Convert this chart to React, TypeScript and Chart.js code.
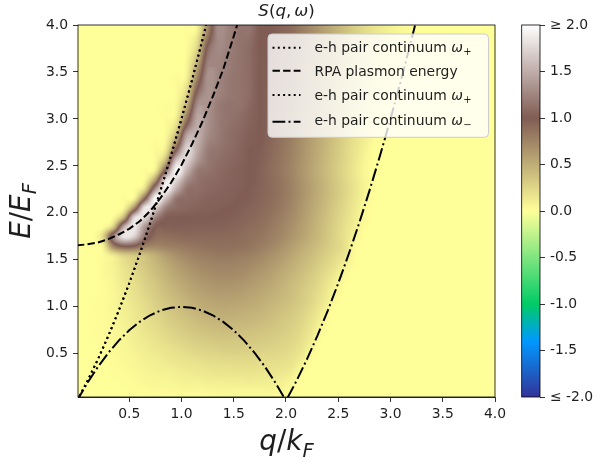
import React, { useEffect, useRef } from "react";
import { Chart, registerables } from "chart.js";

Chart.register(...registerables);

// ---------------- DATA ----------------
// heat-map cell centres (q/kF horizontally, E/EF vertically, top row first)
const qCenters = [
  0.05, 0.15, 0.25, 0.35, 0.45, 0.55, 0.65, 0.75, 0.85, 0.95,
  1.05, 1.15, 1.25, 1.35, 1.45, 1.55, 1.65, 1.75, 1.85, 1.95,
  2.05, 2.15, 2.25, 2.35, 2.45, 2.55, 2.65, 2.75, 2.85, 2.95,
  3.05, 3.15, 3.25, 3.35, 3.45, 3.55, 3.65, 3.75, 3.85, 3.95,
];
const eCenters = [
  3.95, 3.85, 3.75, 3.65, 3.55, 3.45, 3.35, 3.25, 3.15, 3.05,
  2.95, 2.85, 2.75, 2.65, 2.55, 2.45, 2.35, 2.25, 2.15, 2.05,
  1.95, 1.85, 1.75, 1.65, 1.55, 1.45, 1.35, 1.25, 1.15, 1.05,
  0.95, 0.85, 0.75, 0.65, 0.55, 0.45, 0.35, 0.25, 0.15, 0.05,
];
// S(q, w) values, one row per eCenters entry
const sGrid = [
  [0,0,0,0,0,0,0,0,0,0, 0.01,0.08,0.72,1.3,1.24,1.15,1.15,1.0,1.0,0.95, 0.9,0.8,0.7,0.6,0.5,0.4,0.3,0.22,0.15,0.1, 0.06,0.03,0,0,0,0,0,0,0,0],
  [0,0,0,0,0,0,0,0,0,0, 0.02,0.18,0.88,1.29,1.23,1.15,1.12,1.0,1.0,0.95, 0.9,0.8,0.7,0.6,0.5,0.4,0.3,0.22,0.15,0.1, 0.05,0.02,0,0,0,0,0,0,0,0],
  [0,0,0,0,0,0,0,0,0,0, 0.03,0.27,1.06,1.28,1.22,1.15,1.1,1.0,1.0,0.95, 0.88,0.78,0.68,0.58,0.48,0.38,0.28,0.2,0.13,0.08, 0.04,0.01,0,0,0,0,0,0,0,0],
  [0,0,0,0,0,0,0,0,0,0, 0.04,0.4,1.17,1.26,1.2,1.15,1.1,1.0,1.0,0.93, 0.86,0.76,0.66,0.56,0.46,0.36,0.27,0.19,0.12,0.07, 0.03,0,0,0,0,0,0,0,0,0],
  [0,0,0,0,0,0,0,0,0,0, 0.06,0.57,1.26,1.26,1.2,1.15,1.1,1.0,0.98,0.92, 0.85,0.75,0.65,0.55,0.45,0.35,0.26,0.18,0.11,0.06, 0.02,0,0,0,0,0,0,0,0,0],
  [0,0,0,0,0,0,0,0,0,0.02, 0.08,0.73,1.33,1.26,1.18,1.15,1.1,1.0,0.98,0.92, 0.84,0.74,0.64,0.54,0.44,0.34,0.25,0.17,0.1,0.05, 0.01,0,0,0,0,0,0,0,0,0],
  [0,0,0,0,0,0,0,0,0,0.03, 0.18,0.92,1.33,1.25,1.18,1.15,1.1,1.0,0.97,0.91, 0.83,0.73,0.63,0.53,0.43,0.33,0.24,0.16,0.09,0.04, 0,0,0,0,0,0,0,0,0,0],
  [0,0,0,0,0,0,0,0,0,0.03, 0.29,1.12,1.34,1.24,1.18,1.15,1.1,1.0,0.97,0.9, 0.82,0.72,0.62,0.52,0.42,0.32,0.23,0.15,0.08,0.03, 0,0,0,0,0,0,0,0,0,0],
  [0,0,0,0,0,0,0,0,0.02,0.05, 0.48,1.3,1.34,1.2,1.15,1.15,1.08,1.0,0.96,0.9, 0.82,0.72,0.62,0.52,0.42,0.31,0.22,0.14,0.07,0.02, 0,0,0,0,0,0,0,0,0,0],
  [0,0,0,0,0,0,0,0,0.02,0.07, 0.71,1.42,1.33,1.2,1.15,1.12,1.06,1.0,0.95,0.88, 0.8,0.7,0.6,0.5,0.4,0.3,0.21,0.13,0.06,0.01, 0,0,0,0,0,0,0,0,0,0],
  [0,0,0,0,0,0,0,0,0.03,0.18, 0.97,1.48,1.33,1.2,1.14,1.1,1.05,1.0,0.95,0.88, 0.8,0.7,0.6,0.5,0.4,0.3,0.2,0.12,0.05,0, 0,0,0,0,0,0,0,0,0,0],
  [0,0,0,0,0,0,0,0,0.03,0.37, 1.36,1.51,1.31,1.2,1.12,1.08,1.03,1.0,0.94,0.87, 0.79,0.69,0.59,0.49,0.39,0.29,0.19,0.11,0.04,0, 0,0,0,0,0,0,0,0,0,0],
  [0,0,0,0,0,0,0,0.02,0.07,0.68, 1.6,1.51,1.26,1.18,1.12,1.07,1.02,1.0,0.93,0.86, 0.78,0.68,0.58,0.48,0.38,0.28,0.18,0.1,0.02,0, 0,0,0,0,0,0,0,0,0,0],
  [0,0,0,0,0,0,0,0.03,0.18,1.11, 1.77,1.47,1.2,1.15,1.1,1.06,1.0,0.98,0.92,0.85, 0.77,0.67,0.57,0.47,0.37,0.27,0.17,0.08,0,0, 0,0,0,0,0,0,0,0,0,0],
  [0,0,0,0,0,0,0,0.04,0.48,1.67, 1.72,1.37,1.18,1.12,1.08,1.05,1.0,0.97,0.91,0.84, 0.76,0.66,0.56,0.46,0.36,0.26,0.16,0.06,0,0, 0,0,0,0,0,0,0,0,0,0],
  [0,0,0,0,0,0,0.02,0.12,1.07,1.95, 1.55,1.2,1.15,1.1,1.06,1.03,1.0,0.96,0.9,0.83, 0.75,0.65,0.55,0.45,0.35,0.25,0.15,0.05,0,0, 0,0,0,0,0,0,0,0,0,0],
  [0,0,0,0,0,0,0.04,0.62,1.8,1.75, 1.32,1.15,1.1,1.08,1.05,1.03,1.0,0.96,0.91,0.84, 0.76,0.66,0.56,0.46,0.36,0.26,0.16,0.06,0,0, 0,0,0,0,0,0,0,0,0,0],
  [0,0,0,0,0,0.02,0.27,1.36,1.92,1.49, 1.15,1.12,1.08,1.06,1.04,1.02,0.99,0.95,0.91,0.85, 0.77,0.67,0.57,0.47,0.37,0.27,0.17,0.07,0,0, 0,0,0,0,0,0,0,0,0,0],
  [0,0,0,0,0.02,0.1,0.98,1.96,1.6,1.16, 1.1,1.08,1.05,1.04,1.03,1.0,0.98,0.94,0.9,0.84, 0.76,0.66,0.56,0.46,0.36,0.26,0.16,0.06,0,0, 0,0,0,0,0,0,0,0,0,0],
  [0,0,0,0,0.07,0.74,1.86,1.68,1.22,1.1, 1.07,1.05,1.03,1.02,1.0,0.98,0.95,0.92,0.88,0.82, 0.74,0.64,0.54,0.44,0.34,0.24,0.14,0.04,0,0, 0,0,0,0,0,0,0,0,0,0],
  [0,0,0,0.04,0.5,1.76,1.75,1.25,1.02,1.0, 1.0,1.0,1.0,0.99,0.98,0.96,0.93,0.9,0.85,0.79, 0.71,0.62,0.52,0.42,0.32,0.22,0.12,0.03,0,0, 0,0,0,0,0,0,0,0,0,0],
  [0,0,0.02,0.34,1.5,1.85,1.35,1.0,0.97,0.97, 0.97,0.96,0.96,0.96,0.95,0.93,0.9,0.87,0.82,0.76, 0.68,0.59,0.5,0.4,0.3,0.2,0.1,0.02,0,0, 0,0,0,0,0,0,0,0,0,0],
  [0,0,0.25,1.25,1.85,1.7,1.15,0.9,0.88,0.9, 0.92,0.92,0.92,0.92,0.91,0.9,0.87,0.84,0.79,0.73, 0.65,0.57,0.48,0.39,0.29,0.19,0.08,0,0,0, 0,0,0,0,0,0,0,0,0,0],
  [0,0,0.1,0.8,1.05,1.0,0.8,0.75,0.78,0.8, 0.83,0.85,0.87,0.88,0.88,0.87,0.85,0.8,0.75,0.68, 0.6,0.52,0.44,0.36,0.28,0.2,0.04,0,0,0, 0,0,0,0,0,0,0,0,0,0],
  [0,0,0.03,0.15,0.3,0.35,0.4,0.5,0.6,0.68, 0.74,0.78,0.8,0.82,0.82,0.8,0.78,0.74,0.68,0.62, 0.55,0.47,0.4,0.32,0.24,0.16,0.03,0,0,0, 0,0,0,0,0,0,0,0,0,0],
  [0,0,0.03,0.08,0.18,0.27,0.35,0.43,0.52,0.6, 0.66,0.71,0.74,0.76,0.76,0.75,0.72,0.68,0.63,0.57, 0.5,0.43,0.36,0.28,0.2,0.1,0.02,0,0,0, 0,0,0,0,0,0,0,0,0,0],
  [0,0,0.03,0.07,0.15,0.23,0.31,0.39,0.47,0.55, 0.61,0.66,0.69,0.71,0.71,0.7,0.67,0.63,0.58,0.52, 0.46,0.39,0.32,0.24,0.15,0.05,0,0,0,0, 0,0,0,0,0,0,0,0,0,0],
  [0,0,0.02,0.06,0.13,0.2,0.28,0.35,0.43,0.5, 0.56,0.61,0.64,0.66,0.66,0.65,0.62,0.58,0.54,0.48, 0.42,0.36,0.29,0.2,0.1,0.02,0,0,0,0, 0,0,0,0,0,0,0,0,0,0],
  [0,0,0.02,0.05,0.11,0.18,0.25,0.32,0.39,0.45, 0.51,0.56,0.59,0.61,0.61,0.6,0.57,0.54,0.5,0.45, 0.4,0.33,0.26,0.17,0.07,0,0,0,0,0, 0,0,0,0,0,0,0,0,0,0],
  [0,0.01,0.02,0.05,0.1,0.16,0.22,0.29,0.35,0.41, 0.46,0.51,0.54,0.56,0.56,0.55,0.53,0.5,0.46,0.42, 0.37,0.31,0.24,0.14,0.04,0,0,0,0,0, 0,0,0,0,0,0,0,0,0,0],
  [0,0.01,0.02,0.05,0.09,0.14,0.2,0.26,0.32,0.37, 0.42,0.46,0.49,0.51,0.51,0.5,0.48,0.46,0.42,0.38, 0.34,0.28,0.2,0.1,0,0,0,0,0,0, 0,0,0,0,0,0,0,0,0,0],
  [0,0.01,0.02,0.04,0.08,0.13,0.18,0.23,0.28,0.33, 0.37,0.41,0.44,0.46,0.46,0.45,0.44,0.42,0.39,0.35, 0.31,0.25,0.17,0.06,0,0,0,0,0,0, 0,0,0,0,0,0,0,0,0,0],
  [0,0.01,0.02,0.04,0.07,0.11,0.16,0.2,0.25,0.29, 0.33,0.36,0.39,0.4,0.41,0.4,0.39,0.37,0.35,0.32, 0.28,0.22,0.13,0.03,0,0,0,0,0,0, 0,0,0,0,0,0,0,0,0,0],
  [0,0.01,0.02,0.03,0.06,0.1,0.13,0.17,0.21,0.25, 0.28,0.31,0.33,0.35,0.35,0.35,0.34,0.33,0.31,0.28, 0.25,0.19,0.1,0,0,0,0,0,0,0, 0,0,0,0,0,0,0,0,0,0],
  [0,0,0.01,0.03,0.05,0.08,0.11,0.14,0.17,0.2, 0.23,0.26,0.28,0.29,0.3,0.3,0.29,0.28,0.27,0.25, 0.22,0.16,0.05,0,0,0,0,0,0,0, 0,0,0,0,0,0,0,0,0,0],
  [0,0,0.01,0.02,0.04,0.06,0.09,0.11,0.14,0.16, 0.18,0.2,0.22,0.23,0.24,0.24,0.24,0.23,0.22,0.21, 0.18,0.11,0.02,0,0,0,0,0,0,0, 0,0,0,0,0,0,0,0,0,0],
  [0,0,0,0.02,0.03,0.05,0.07,0.09,0.1,0.12, 0.14,0.15,0.17,0.18,0.18,0.19,0.19,0.18,0.18,0.17, 0.14,0.05,0,0,0,0,0,0,0,0, 0,0,0,0,0,0,0,0,0,0],
  [0,0,0,0.01,0.02,0.03,0.05,0.06,0.07,0.08, 0.1,0.11,0.12,0.13,0.13,0.13,0.14,0.13,0.13,0.12, 0.08,0.01,0,0,0,0,0,0,0,0, 0,0,0,0,0,0,0,0,0,0],
  [0,0,0,0,0.01,0.02,0.03,0.04,0.04,0.05, 0.06,0.06,0.07,0.07,0.08,0.08,0.08,0.08,0.08,0.07, 0.03,0,0,0,0,0,0,0,0,0, 0,0,0,0,0,0,0,0,0,0],
  [0,0,0,0,0,0.01,0.01,0.01,0.02,0.02, 0.02,0.02,0.02,0.03,0.03,0.03,0.03,0.03,0.03,0.02, 0.01,0,0,0,0,0,0,0,0,0, 0,0,0,0,0,0,0,0,0,0],
];

// curves
const wPlusQ = [0, 0.1, 0.2, 0.3, 0.4, 0.5, 0.6, 0.7, 0.8, 0.9, 1.0, 1.1, 1.2, 1.3];
const wPlusE = [0, 0.21, 0.44, 0.69, 0.96, 1.25, 1.56, 1.89, 2.24, 2.61, 3.0, 3.41, 3.84, 4.29];

const plasmonQ = [0, 0.1, 0.2, 0.3, 0.4, 0.5, 0.6, 0.7, 0.8, 0.9, 1.0, 1.1, 1.2, 1.3, 1.4, 1.5, 1.6];
const plasmonE = [1.655, 1.665, 1.685, 1.72, 1.77, 1.83, 1.91, 2.02, 2.16, 2.32, 2.51, 2.73, 2.97, 3.24, 3.53, 3.88, 4.25];

const wMinusQ = [0, 0.1, 0.2, 0.3, 0.4, 0.5, 0.6, 0.7, 0.8, 0.9, 1.0, 1.1, 1.2, 1.3, 1.4, 1.5, 1.6, 1.7, 1.8, 1.9,
  2.0, 2.1, 2.2, 2.3, 2.4, 2.5, 2.6, 2.7, 2.8, 2.9, 3.0, 3.1, 3.2, 3.3];
const wMinusE = [0, 0.19, 0.36, 0.51, 0.64, 0.75, 0.84, 0.91, 0.96, 0.99, 1.0, 0.99, 0.96, 0.91, 0.84, 0.75, 0.64, 0.51, 0.36, 0.19,
  0, 0.21, 0.44, 0.69, 0.96, 1.25, 1.56, 1.89, 2.24, 2.61, 3.0, 3.41, 3.84, 4.29];

const xTicks = [0.5, 1.0, 1.5, 2.0, 2.5, 3.0, 3.5, 4.0];
const yTicks = [0.5, 1.0, 1.5, 2.0, 2.5, 3.0, 3.5, 4.0];
const cbTicks = [-2.0, -1.5, -1.0, -0.5, 0.0, 0.5, 1.0, 1.5, 2.0];

const V_MIN = -2;
const V_MAX = 2;

// ---------------- STYLE ----------------
const FONT = '"DejaVu Sans", "Liberation Sans", sans-serif';
const TXT = "#1e1e1e";
const DOT = [2, 3.3];
const DASH = [7.4, 3.2];
const DASHDOT = [12.8, 3.2, 2, 3.2];

const TERRAIN: [number, number[]][] = [
  [0.0, [0.2, 0.2, 0.6]],
  [0.15, [0.0, 0.6, 1.0]],
  [0.25, [0.0, 0.8, 0.4]],
  [0.5, [1.0, 1.0, 0.6]],
  [0.75, [0.5, 0.36, 0.33]],
  [1.0, [1.0, 1.0, 1.0]],
];

function terrain(t: number): number[] {
  const u = Math.max(0, Math.min(1, t));
  for (let k = 0; k < TERRAIN.length - 1; k++) {
    const [t0, c0] = TERRAIN[k];
    const [t1, c1] = TERRAIN[k + 1];
    if (u <= t1) {
      const f = (u - t0) / (t1 - t0);
      return [0, 1, 2].map((m) => Math.round(255 * (c0[m] + f * (c1[m] - c0[m]))));
    }
  }
  return [255, 255, 255];
}

// Catmull-Rom sampling of the grid (rendering only), clamped to avoid overshoot
function cell(j: number, i: number): number {
  const jj = Math.max(0, Math.min(eCenters.length - 1, j));
  const ii = Math.max(0, Math.min(qCenters.length - 1, i));
  return sGrid[jj][ii];
}
function cr(p0: number, p1: number, p2: number, p3: number, t: number): number {
  return 0.5 * (2 * p1 + (-p0 + p2) * t + (2 * p0 - 5 * p1 + 4 * p2 - p3) * t * t + (-p0 + 3 * p1 - 3 * p2 + p3) * t * t * t);
}
function sample(gx: number, gy: number): number {
  const i = Math.floor(gx);
  const j = Math.floor(gy);
  const tx = gx - i;
  const ty = gy - j;
  const rows: number[] = [];
  for (let m = -1; m <= 2; m++) {
    rows.push(cr(cell(j + m, i - 1), cell(j + m, i), cell(j + m, i + 1), cell(j + m, i + 2), tx));
  }
  const v = cr(rows[0], rows[1], rows[2], rows[3], ty);
  const a = cell(j, i), b = cell(j, i + 1), c = cell(j + 1, i), d = cell(j + 1, i + 1);
  const lo = Math.min(a, b, c, d);
  const hi = Math.max(a, b, c, d);
  return Math.max(lo, Math.min(hi, v));
}

type Run = { t: string; font: string; dy?: number; gap?: number };

function drawRuns(ctx: CanvasRenderingContext2D, runs: Run[], x: number, y: number, align: "center" | "left") {
  let total = 0;
  for (const r of runs) {
    ctx.font = r.font;
    total += ctx.measureText(r.t).width + (r.gap || 0);
  }
  let cx = align === "center" ? x - total / 2 : x;
  ctx.textAlign = "left";
  ctx.textBaseline = "alphabetic";
  for (const r of runs) {
    ctx.font = r.font;
    ctx.fillText(r.t, cx, y + (r.dy || 0));
    cx += ctx.measureText(r.t).width + (r.gap || 0);
  }
}

const it = (s: number) => `italic ${s}px ${FONT}`;
const nf = (s: number) => `${s}px ${FONT}`;

const legendEntries = [
  { text: "e-h pair continuum ", sym: "ω", sub: "+", dash: DOT },
  { text: "RPA plasmon energy", sym: "", sub: "", dash: DASH },
  { text: "e-h pair continuum ", sym: "ω", sub: "+", dash: DOT },
  { text: "e-h pair continuum ", sym: "ω", sub: "−", dash: DASHDOT },
];

const heatPlugin = {
  id: "heatmap",
  beforeDatasetsDraw(chart: any) {
    const { ctx, chartArea: a, scales } = chart;
    const xs = scales.x;
    const ys = scales.y;
    const dq = qCenters[1] - qCenters[0];
    const dE = eCenters[0] - eCenters[1];
    const L = Math.round(a.left);
    const T = Math.round(a.top);
    const W = Math.round(a.right) - L;
    const H = Math.round(a.bottom) - T;
    const img = ctx.createImageData(W, H);
    for (let py = 0; py < H; py++) {
      const E = ys.getValueForPixel(T + py + 0.5);
      const gy = (eCenters[0] - E) / dE;
      for (let px = 0; px < W; px++) {
        const q = xs.getValueForPixel(L + px + 0.5);
        const gx = (q - qCenters[0]) / dq;
        const c = terrain((sample(gx, gy) - V_MIN) / (V_MAX - V_MIN));
        const k = (py * W + px) * 4;
        img.data[k] = c[0];
        img.data[k + 1] = c[1];
        img.data[k + 2] = c[2];
        img.data[k + 3] = 255;
      }
    }
    ctx.putImageData(img, L, T);
  },
};

const overlayPlugin = {
  id: "overlay",
  afterDatasetsDraw(chart: any) {
    const { ctx, chartArea: a, scales } = chart;
    ctx.save();
    // frame
    ctx.strokeStyle = "#000";
    ctx.lineWidth = 0.8;
    ctx.setLineDash([]);
    ctx.strokeRect(a.left, a.top, a.right - a.left, a.bottom - a.top);

    // colour bar
    const cb = scales.cb;
    const cx1 = cb.left;
    const cx0 = cx1 - 18.3;
    const cyT = cb.getPixelForValue(V_MAX);
    const cyB = cb.getPixelForValue(V_MIN);
    const g = ctx.createLinearGradient(0, cyT, 0, cyB);
    for (const [t, c] of TERRAIN) {
      g.addColorStop(1 - t, `rgb(${c.map((v) => Math.round(v * 255)).join(",")})`);
    }
    ctx.fillStyle = g;
    ctx.fillRect(cx0, cyT, cx1 - cx0, cyB - cyT);
    ctx.strokeRect(cx0, cyT, cx1 - cx0, cyB - cyT);

    // legend
    const W = 220.5;
    const H = 103.3;
    const L = a.right - 6.5 - W;
    const T = a.top + 9;
    ctx.beginPath();
    ctx.roundRect(L, T, W, H, 4);
    ctx.fillStyle = "rgba(255,255,255,0.8)";
    ctx.fill();
    ctx.strokeStyle = "#cccccc";
    ctx.lineWidth = 1;
    ctx.stroke();
    const lineYs = [13.7, 36.7, 61, 87.7];
    const baseYs = [17.7, 42, 65.5, 91];
    legendEntries.forEach((e, k) => {
      ctx.beginPath();
      ctx.strokeStyle = "#000";
      ctx.lineWidth = 2;
      ctx.setLineDash(e.dash);
      ctx.moveTo(L + 4.5, T + lineYs[k]);
      ctx.lineTo(L + 32.5, T + lineYs[k]);
      ctx.stroke();
      ctx.setLineDash([]);
      ctx.fillStyle = TXT;
      const runs: Run[] = [{ t: e.text, font: nf(13.9) }];
      if (e.sym) {
        runs.push({ t: e.sym, font: it(13.9), gap: 0.5 });
        runs.push({ t: e.sub, font: nf(10), dy: 3.3 });
      }
      drawRuns(ctx, runs, L + 46.5, T + baseYs[k], "left");
    });

    // title
    const mid = (a.left + a.right) / 2;
    ctx.fillStyle = TXT;
    drawRuns(ctx, [
      { t: "S", font: it(16.7) },
      { t: "(", font: nf(16.7) },
      { t: "q", font: it(16.7) },
      { t: ",", font: nf(16.7), gap: 2.8 },
      { t: "ω", font: it(16.7) },
      { t: ")", font: nf(16.7) },
    ], mid, 16, "center");

    // x label
    drawRuns(ctx, [
      { t: "q", font: it(27.8) },
      { t: "/", font: nf(27.8) },
      { t: "k", font: it(27.8) },
      { t: "F", font: it(19.5), dy: 6.5 },
    ], mid, 450, "center");

    // y label
    ctx.save();
    ctx.translate(29.5, (a.top + a.bottom) / 2);
    ctx.rotate(-Math.PI / 2);
    drawRuns(ctx, [
      { t: "E", font: it(27.8) },
      { t: "/", font: nf(27.8) },
      { t: "E", font: it(27.8) },
      { t: "F", font: it(19.5), dy: 6.5 },
    ], 0, 0, "center");
    ctx.restore();
    ctx.restore();
  },
};

function lineData(qs: number[], es: number[]) {
  return qs.map((q, i) => ({ x: q, y: es[i] }));
}

const tickFont = { family: FONT, size: 13.9 };

export default function App() {
  const ref = useRef<HTMLCanvasElement>(null);
  useEffect(() => {
    const base = { borderColor: "#000", borderWidth: 2, pointRadius: 0, fill: false, tension: 0 };
    const chart = new Chart(ref.current as HTMLCanvasElement, {
      type: "line",
      data: {
        datasets: [
          { ...base, label: "e-h pair continuum ω+", data: lineData(wPlusQ, wPlusE), borderDash: DOT },
          { ...base, label: "RPA plasmon energy", data: lineData(plasmonQ, plasmonE), borderDash: DASH },
          { ...base, label: "e-h pair continuum ω+ (2)", data: lineData(wPlusQ, wPlusE), borderDash: DOT },
          { ...base, label: "e-h pair continuum ω−", data: lineData(wMinusQ, wMinusE), borderDash: DASHDOT },
        ] as any,
      },
      options: {
        responsive: false,
        animation: false,
        devicePixelRatio: 1,
        events: [],
        layout: { padding: { top: 25, left: 0, right: 0, bottom: 0 } },
        plugins: { legend: { display: false }, tooltip: { enabled: false }, title: { display: false } },
        scales: {
          x: {
            type: "linear",
            position: "bottom",
            min: 0.01,
            max: 4,
            afterFit: (s: any) => { s.height = 69; },
            afterBuildTicks: (s: any) => { s.ticks = xTicks.map((v) => ({ value: v })); },
            ticks: { font: tickFont, color: TXT, padding: 4, maxRotation: 0, autoSkip: false, callback: (v: any) => Number(v).toFixed(1) },
            grid: { drawOnChartArea: false, drawTicks: true, tickLength: 5, color: "#000", lineWidth: 0.8 },
            border: { display: true, color: "#000", width: 0.8 },
          },
          y: {
            type: "linear",
            position: "left",
            min: 0.04,
            max: 4,
            afterFit: (s: any) => { s.width = 78; },
            afterBuildTicks: (s: any) => { s.ticks = yTicks.map((v) => ({ value: v })); },
            ticks: { font: tickFont, color: TXT, padding: 5, autoSkip: false, callback: (v: any) => Number(v).toFixed(1) },
            grid: { drawOnChartArea: false, drawTicks: true, tickLength: 5, color: "#000", lineWidth: 0.8 },
            border: { display: true, color: "#000", width: 0.8 },
          },
          gap: {
            type: "linear",
            position: "right",
            weight: 0,
            display: true,
            afterFit: (s: any) => { s.width = 45; },
            ticks: { display: false },
            grid: { display: false },
            border: { display: false },
          },
          cb: {
            type: "linear",
            position: "right",
            weight: 1,
            min: V_MIN,
            max: V_MAX,
            afterFit: (s: any) => { s.width = 60; },
            afterBuildTicks: (s: any) => { s.ticks = cbTicks.map((v) => ({ value: v })); },
            ticks: {
              font: tickFont,
              color: TXT,
              padding: 5,
              autoSkip: false,
              callback: (v: any) => {
                const n = Number(v);
                if (n >= V_MAX) return "≥ 2.0";
                if (n <= V_MIN) return "≤ -2.0";
                return n.toFixed(1);
              },
            },
            grid: { drawOnChartArea: false, drawTicks: true, tickLength: 5, color: "#000", lineWidth: 0.8 },
            border: { display: false },
          },
        } as any,
      },
      plugins: [heatPlugin, overlayPlugin],
    } as any);
    return () => chart.destroy();
  }, []);
  return (
    <div style={{ position: "absolute", left: 0, top: 0, width: 600, height: 466 }}>
      <canvas ref={ref} width={600} height={466} style={{ display: "block" }} />
    </div>
  );
}
